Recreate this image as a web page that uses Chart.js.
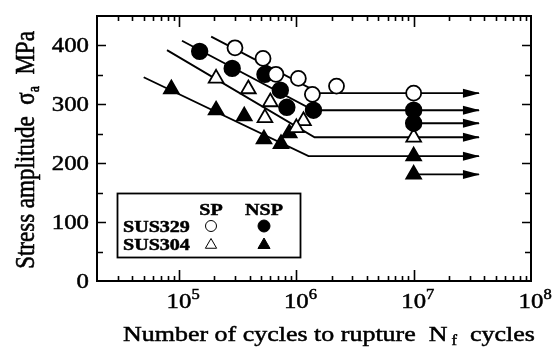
<!DOCTYPE html>
<html>
<head>
<meta charset="utf-8">
<script src="https://cdn.jsdelivr.net/npm/chart.js@4.4.1/dist/chart.umd.min.js"></script>
<style>
  html, body { margin: 0; padding: 0; background: #fff; }
  #wrap { width: 554px; height: 349px; position: relative; }
</style>
</head>
<body>
<div id="wrap"><canvas id="snChart"></canvas></div>
<script>
/* S-N diagram, SUS329 / SUS304, SP vs NSP */

// measured points: [cycles to rupture, stress amplitude MPa]
const sus329Sp = [[3.0e5, 396], [5.2e5, 378], [6.7e5, 351], [1.04e6, 344], [1.37e6, 317], [2.2e6, 331], [1e7, 319]];
const sus329Nsp = [[1.5e5, 390], [2.84e5, 361], [5.4e5, 351], [7.3e5, 324], [8.3e5, 295], [1.4e6, 290], [1e7, 290], [1e7, 268]];
const sus304Sp = [[2.07e5, 344], [3.9e5, 326], [6.0e5, 304], [5.4e5, 277], [1.15e6, 272], [1.0e6, 260], [1e7, 244]];
const sus304Nsp = [[8.6e4, 326], [2.07e5, 290], [3.6e5, 280], [5.3e5, 241], [7.4e5, 233], [8.7e5, 251], [1e7, 212], [1e7, 181]];

// fitted S-N curves (sloped part + fatigue limit)
const sus329SpCurve = [[1.88e5, 415], [1.57e6, 319], [3.6e7, 319]];
const sus329NspCurve = [[1.06e5, 408], [1.4e6, 290], [3.6e7, 290]];
const sus304SpCurve = [[7.9e4, 392], [1.43e6, 244], [3.6e7, 244]];
const sus304NspCurve = [[5.0e4, 346], [1.27e6, 212], [3.6e7, 212]];

// run-out arrows with no curve attached
const runout329Nsp = [[1e7, 268], [3.6e7, 268]];
const runout304Nsp = [[1e7, 181], [3.6e7, 181]];

const yTickLabels = [0, 100, 200, 300, 400];
const xTickExponents = [5, 6, 7, 8];

const SERIF = "'Liberation Serif', 'DejaVu Serif', serif";
const STRETCH = 1.18;

const toXY = arr => arr.map(p => ({ x: p[0], y: p[1] }));

function markerSet(label, data, style, filled, radius) {
  return {
    label,
    data: toXY(data),
    pointStyle: style,
    pointRadius: radius,
    pointHoverRadius: radius,
    pointBorderWidth: 1.8,
    pointBorderColor: '#000',
    pointBackgroundColor: filled ? '#000' : '#fff',
    showLine: false,
    order: 0,
  };
}

function curveSet(label, data) {
  return {
    label,
    data: toXY(data),
    showLine: true,
    borderColor: '#000',
    borderWidth: 1.9,
    pointRadius: 0,
    pointHoverRadius: 0,
    arrowEnd: true,
    order: 1,
  };
}

// runs of text, each {t, size, dy, weight}; drawn left to right, squeezed wider
function runsWidth(ctx, runs) {
  let w = 0;
  runs.forEach(r => {
    ctx.font = `${r.weight || 'normal'} ${r.size}px ${SERIF}`;
    w += ctx.measureText(r.t).width;
  });
  return w;
}

function paintRuns(ctx, runs, startX) {
  let cx = startX;
  runs.forEach(r => {
    ctx.font = `${r.weight || 'normal'} ${r.size}px ${SERIF}`;
    ctx.fillText(r.t, cx, r.dy || 0);
    ctx.strokeText(r.t, cx, r.dy || 0);
    cx += ctx.measureText(r.t).width;
  });
}

function drawRuns(ctx, runs, x, y, align) {
  ctx.save();
  ctx.fillStyle = '#000';
  ctx.strokeStyle = '#000';
  ctx.lineWidth = 0.5;
  ctx.textBaseline = 'alphabetic';
  ctx.textAlign = 'left';
  const w = runsWidth(ctx, runs) * STRETCH;
  let left = x;
  if (align === 'center') left = x - w / 2;
  if (align === 'right') left = x - w;
  ctx.translate(left, y);
  ctx.scale(STRETCH, 1);
  paintRuns(ctx, runs, 0);
  ctx.restore();
}

const decorPlugin = {
  id: 'snDecor',
  afterDatasetsDraw(chart) {
    const ctx = chart.ctx;
    // arrow heads at the open end of each horizontal segment
    chart.data.datasets.forEach((ds, i) => {
      if (!ds.arrowEnd) return;
      const pts = chart.getDatasetMeta(i).data;
      const tip = pts[pts.length - 1];
      ctx.save();
      ctx.fillStyle = '#000';
      ctx.beginPath();
      ctx.moveTo(tip.x + 1, tip.y);
      ctx.lineTo(tip.x - 16, tip.y - 4.5);
      ctx.lineTo(tip.x - 16, tip.y + 4.5);
      ctx.closePath();
      ctx.fill();
      ctx.restore();
    });
  },
  afterDraw(chart) {
    const ctx = chart.ctx;
    const { left, right, top, bottom } = chart.chartArea;
    const xs = chart.scales.x;
    const ys = chart.scales.y;

    ctx.save();
    ctx.strokeStyle = '#000';
    ctx.lineWidth = 2;
    ctx.strokeRect(left, top, right - left, bottom - top);

    // inward ticks on all four sides
    ctx.lineWidth = 1.6;
    ctx.beginPath();
    for (let v = 50; v < 450; v += 50) {
      const py = Math.round(ys.getPixelForValue(v)) + 0.5;
      const len = v % 100 === 0 ? 9 : 6;
      ctx.moveTo(left, py); ctx.lineTo(left + len, py);
      ctx.moveTo(right, py); ctx.lineTo(right - len, py);
    }
    for (let e = 4; e < 8; e++) {
      for (let m = 1; m < 10; m++) {
        const v = m * Math.pow(10, e);
        if (v <= xs.min || v >= xs.max) continue;
        const px = Math.round(xs.getPixelForValue(v)) + 0.5;
        const len = m === 1 ? 11 : 5;
        ctx.moveTo(px, bottom); ctx.lineTo(px, bottom - len);
        ctx.moveTo(px, top); ctx.lineTo(px, top + len);
      }
    }
    ctx.stroke();
    ctx.restore();

    // y tick labels
    yTickLabels.forEach(v => {
      const py = ys.getPixelForValue(v);
      drawRuns(ctx, [{ t: String(v), size: 21 }], 89, py + 7, 'right');
    });

    // x tick labels 10^n
    xTickExponents.forEach(e => {
      const px = xs.getPixelForValue(Math.pow(10, e));
      ctx.font = `21px ${SERIF}`;
      const w10 = ctx.measureText('10').width * STRETCH;
      drawRuns(ctx, [{ t: '10', size: 21 }, { t: String(e), size: 14, dy: -9 }], px - w10 / 2, 308, 'left');
    });

    // axis titles
    drawRuns(ctx, [
      { t: 'Number of cycles to rupture  N', size: 22 },
      { t: ' f', size: 14, dy: 4 },
      { t: '  cycles', size: 22 },
    ], 329, 341, 'center');

    const yRuns = [
      { t: 'Stress amplitude  \u03c3', size: 23 },
      { t: 'a', size: 14, dy: 4 },
      { t: '  MPa', size: 23 },
    ];
    ctx.save();
    ctx.fillStyle = '#000';
    ctx.strokeStyle = '#000';
    ctx.lineWidth = 0.5;
    ctx.textBaseline = 'alphabetic';
    const yw = runsWidth(ctx, yRuns);
    ctx.translate(34, 150);
    ctx.scale(STRETCH, 1);
    ctx.rotate(-Math.PI / 2);
    paintRuns(ctx, yRuns, -yw / 2);
    ctx.restore();

    // legend box
    ctx.save();
    ctx.strokeStyle = '#000';
    ctx.lineWidth = 1.8;
    ctx.strokeRect(117.5, 193.5, 183, 64);
    ctx.restore();

    drawRuns(ctx, [{ t: 'SP', size: 17, weight: 'bold' }], 211, 215, 'center');
    drawRuns(ctx, [{ t: 'NSP', size: 17, weight: 'bold' }], 264, 215, 'center');
    drawRuns(ctx, [{ t: 'SUS329', size: 17, weight: 'bold' }], 123, 232, 'left');
    drawRuns(ctx, [{ t: 'SUS304', size: 17, weight: 'bold' }], 123, 250, 'left');

    const keys = [
      { style: 'circle', filled: false, x: 211, y: 226, r: 5.5 },
      { style: 'circle', filled: true, x: 264, y: 226, r: 6 },
      { style: 'triangle', filled: false, x: 211, y: 245, r: 6.5 },
      { style: 'triangle', filled: true, x: 264, y: 245, r: 7 },
    ];
    keys.forEach(k => {
      ctx.save();
      ctx.fillStyle = k.filled ? '#000' : '#fff';
      ctx.strokeStyle = '#000';
      Chart.helpers.drawPoint(ctx, { pointStyle: k.style, radius: k.r, borderWidth: 1.6, rotation: 0 }, k.x, k.y);
      ctx.restore();
    });
  },
};

new Chart(document.getElementById('snChart'), {
  type: 'scatter',
  data: {
    datasets: [
      markerSet('SUS329 SP', sus329Sp, 'circle', false, 7.5),
      markerSet('SUS329 NSP', sus329Nsp, 'circle', true, 7.8),
      markerSet('SUS304 SP', sus304Sp, 'triangle', false, 8.5),
      markerSet('SUS304 NSP', sus304Nsp, 'triangle', true, 8.5),
      curveSet('SUS329 SP fit', sus329SpCurve),
      curveSet('SUS329 NSP fit', sus329NspCurve),
      curveSet('SUS304 SP fit', sus304SpCurve),
      curveSet('SUS304 NSP fit', sus304NspCurve),
      curveSet('SUS329 NSP run-out', runout329Nsp),
      curveSet('SUS304 NSP run-out', runout304Nsp),
    ],
  },
  options: {
    responsive: true,
    maintainAspectRatio: false,
    animation: false,
    devicePixelRatio: 1,
    layout: { padding: { left: 97, right: 23, top: 16, bottom: 68 } },
    plugins: { legend: { display: false }, tooltip: { enabled: false } },
    scales: {
      x: { type: 'logarithmic', min: 2e4, max: 1e8, display: false },
      y: { type: 'linear', min: 0, max: 450, display: false },
    },
  },
  plugins: [decorPlugin],
});
</script>
</body>
</html>
